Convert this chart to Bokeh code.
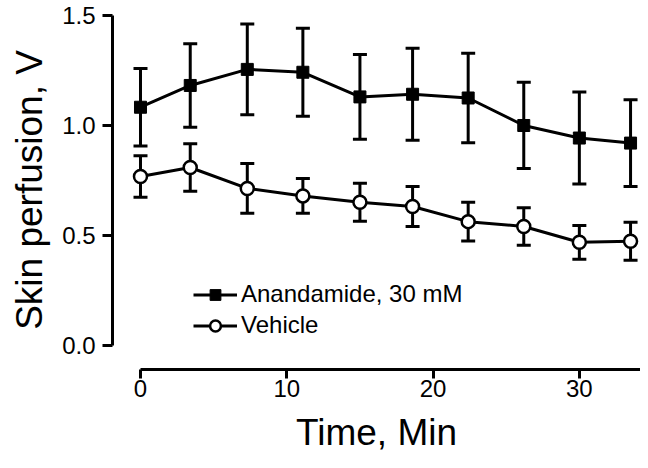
from bokeh.plotting import figure
from bokeh.models import (Range1d, Whisker, TeeHead, ColumnDataSource, Legend,
                          LegendItem, FixedTicker, NumeralTickFormatter)
from bokeh.embed import file_html
from bokeh.resources import INLINE

# ---- data ----
time_min = [0, 3.4, 7.3, 11.1, 15.0, 18.6, 22.4, 26.2, 30.0, 33.5]
anandamide_mean = [1.083, 1.182, 1.255, 1.242, 1.130, 1.142, 1.125, 1.000, 0.943, 0.920]
anandamide_sem = [0.176, 0.190, 0.206, 0.200, 0.193, 0.209, 0.203, 0.196, 0.209, 0.197]
vehicle_mean = [0.768, 0.809, 0.714, 0.680, 0.651, 0.632, 0.563, 0.541, 0.469, 0.474]
vehicle_sem = [0.094, 0.108, 0.113, 0.079, 0.086, 0.091, 0.088, 0.085, 0.077, 0.086]
series_names = ["Anandamide, 30 mM", "Vehicle"]
x_ticks = [0, 10, 20, 30]
y_ticks = [0.0, 0.5, 1.0, 1.5]
x_label = "Time, Min"
y_label = "Skin perfusion, V"

FONT = "Liberation Sans"
X_START, X_END = -1.914, 34.18
Y_START, Y_END = -0.1091, 1.5227

p = figure(width=640, height=460,
           x_range=Range1d(X_START, X_END), y_range=Range1d(Y_START, Y_END),
           output_backend="svg", toolbar_location=None,
           min_border_left=112, min_border_right=0,
           min_border_top=10, min_border_bottom=91)
p.outline_line_color = None
p.xgrid.visible = False
p.ygrid.visible = False
p.background_fill_color = "white"
p.border_fill_color = "white"

for ax in (p.xaxis[0], p.yaxis[0]):
    ax.axis_line_width = 3
    ax.axis_line_color = "black"
    ax.major_tick_line_width = 3
    ax.major_tick_line_color = "black"
    ax.major_tick_in = 0
    ax.minor_tick_in = 0
    ax.minor_tick_out = 0
    ax.major_label_text_font = FONT
    ax.major_label_text_font_size = "24px"
    ax.major_label_text_color = "black"
    ax.axis_label_text_font = FONT
    ax.axis_label_text_font_size = "37px"
    ax.axis_label_text_font_style = "normal"
    ax.axis_label_text_color = "black"

xa = p.xaxis[0]
xa.ticker = FixedTicker(ticks=x_ticks)
xa.bounds = (0, X_END)
xa.major_tick_out = 9
xa.major_label_standoff = 1
xa.axis_label = x_label
xa.axis_label_standoff = 12

ya = p.yaxis[0]
ya.ticker = FixedTicker(ticks=y_ticks)
ya.formatter = NumeralTickFormatter(format="0.0")
ya.bounds = (0, 1.5)
ya.major_tick_out = 10
ya.major_label_standoff = 7
ya.axis_label = y_label
ya.axis_label_standoff = 9

def add_series(mean, sem, marker, size, fill, lw):
    src = ColumnDataSource(dict(
        t=time_min, m=mean,
        up=[a + b for a, b in zip(mean, sem)],
        lo=[a - b for a, b in zip(mean, sem)]))
    w = Whisker(base="t", upper="up", lower="lo", source=src, dimension="height",
                line_width=3, line_color="black", level="underlay",
                upper_head=TeeHead(size=14, line_width=3, line_color="black"),
                lower_head=TeeHead(size=14, line_width=3, line_color="black"))
    p.add_layout(w)
    ln = p.line("t", "m", source=src, line_width=3, line_color="black")
    sc = p.scatter("t", "m", source=src, marker=marker, size=size,
                   fill_color=fill, line_color="black", line_width=lw)
    return ln, sc

l1, s1 = add_series(anandamide_mean, anandamide_sem, "square", 12, "black", 1)
l2, s2 = add_series(vehicle_mean, vehicle_sem, "circle", 13, "white", 2.5)

legend = Legend(items=[LegendItem(label=series_names[0], renderers=[l1, s1]),
                       LegendItem(label=series_names[1], renderers=[l2, s2])],
                location=(81, 30), orientation="vertical",
                glyph_width=44, glyph_height=27, label_height=27,
                label_standoff=4, spacing=3, padding=0, margin=0,
                border_line_color=None, background_fill_alpha=0,
                label_text_font=FONT, label_text_font_size="24px",
                label_text_color="black")
p.add_layout(legend)

open("out.html", "w").write(file_html(p, INLINE))
